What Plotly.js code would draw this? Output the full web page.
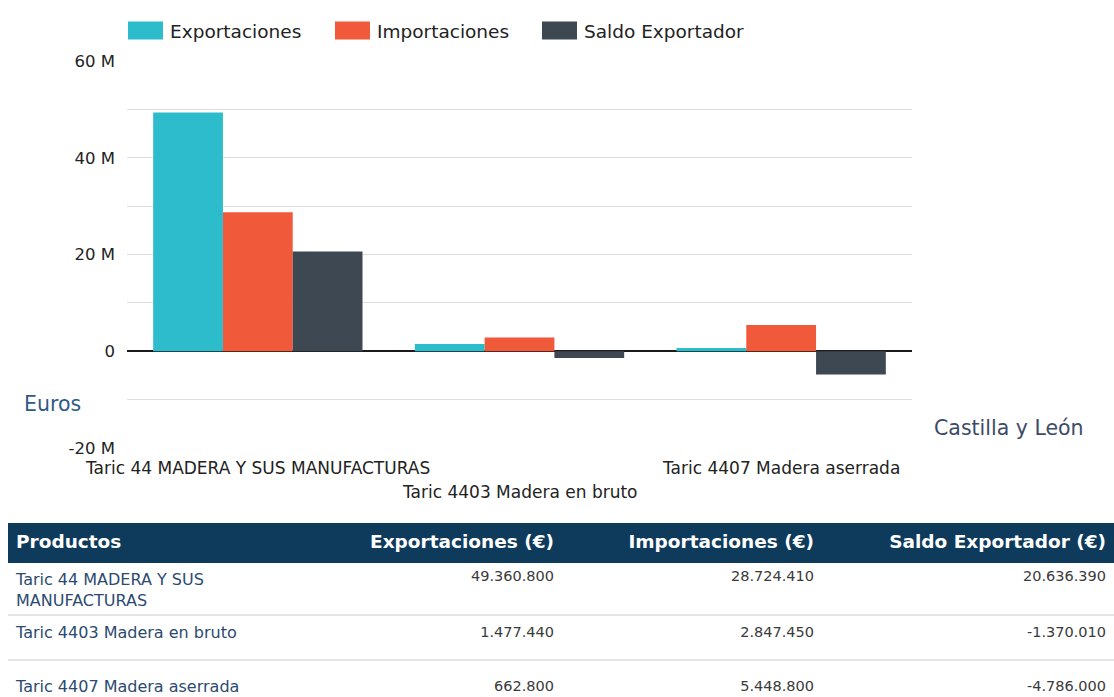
<!DOCTYPE html>
<html><head><meta charset="utf-8">
<script src="https://cdn.plot.ly/plotly-3.0.1.min.js"></script>
<style>html,body{margin:0;padding:0;background:#fff}#chart{width:1114px;height:697px}</style>
</head><body><div id="chart"></div>
<script>
const categories = ["Taric 44 MADERA Y SUS MANUFACTURAS", "Taric 4403 Madera en bruto", "Taric 4407 Madera aserrada"];
const exportaciones = [49360800, 1477440, 662800];
const importaciones = [28724410, 2847450, 5448800];
const saldo = [20636390, -1370010, -4786000];
const seriesNames = ["Exportaciones", "Importaciones", "Saldo Exportador"];
const tableHeaders = ["Productos", "Exportaciones (€)", "Importaciones (€)", "Saldo Exportador (€)"];
const yTickVals = [-20000000, 0, 20000000, 40000000, 60000000];
const yTickText = ["-20 M", "0", "20 M", "40 M", "60 M"];

const FONT = "DejaVu Sans, Noto Sans, sans-serif";
const colors = ["#2dbccc", "#f0593a", "#3e4852"];
const W = 1114, H = 697;
const px = v => v / W, py = v => 1 - v / H;

function wrap(s, n) {
  const words = s.split(" "); const lines = []; let cur = "";
  words.forEach(w => { if ((cur + " " + w).trim().length > n) { lines.push(cur); cur = w; } else { cur = (cur + " " + w).trim(); } });
  lines.push(cur); return lines.join("<br>");
}
function fmt(v) {
  const s = Math.abs(Math.round(v)).toString().replace(/\B(?=(\d{3})+(?!\d))/g, ".");
  return (v < 0 ? "-" : "") + s;
}

const seriesData = [exportaciones, importaciones, saldo];
const traces = seriesData.map((d, i) => ({
  type: "bar", x: categories, y: d, name: seriesNames[i],
  marker: {color: colors[i]}, xaxis: "x", yaxis: "y", hoverinfo: "y+name"
}));

traces.push({
  type: "table",
  domain: {x: [px(8), 1], y: [0, py(523)]},
  columnwidth: [322, 232, 260, 292],
  header: {
    values: tableHeaders.map(h => "<b>" + h + "</b>"),
    align: ["left", "right", "right", "right"],
    fill: {color: "#0e3a5c"}, line: {color: "#0e3a5c", width: 1},
    font: {family: FONT, size: 18.5, color: "#ffffff"}, height: 39
  },
  cells: {
    values: [categories.map(c => wrap(c, 26)), exportaciones.map(fmt), importaciones.map(fmt), saldo.map(fmt)],
    align: ["left", "right", "right", "right"],
    fill: {color: "#ffffff"}, line: {color: "#ffffff", width: 1},
    font: {family: FONT, size: [16, 14.5, 14.5, 14.5], color: ["#2c4a70", "#3a3a3a", "#3a3a3a", "#3a3a3a"]}, height: 54
  }
});

const annotations = categories.map((c, i) => ({
  x: c, xref: "x", y: i % 2 ? py(492) : py(468), yref: "paper",
  text: c, showarrow: false, xanchor: "center", yanchor: "middle",
  font: {family: FONT, size: 17, color: "#222"}
}));
annotations.push({x: px(52), y: py(404), xref: "paper", yref: "paper", text: "Euros", showarrow: false,
  font: {family: FONT, size: 20.5, color: "#2f5a85"}, xanchor: "center", yanchor: "middle"});
annotations.push({x: px(1009), y: py(428), xref: "paper", yref: "paper", text: "Castilla y León", showarrow: false,
  font: {family: FONT, size: 20.5, color: "#3d4b66"}, xanchor: "center", yanchor: "middle"});

const shapes = [615, 660].map(y => ({type: "line", xref: "paper", yref: "paper", x0: px(8), x1: 1, y0: py(y), y1: py(y),
  line: {color: "#dcdcdc", width: 1.5}}));

const layout = {
  width: W, height: H, margin: {l: 0, r: 0, t: 0, b: 0},
  paper_bgcolor: "#fff", plot_bgcolor: "#fff",
  font: {family: FONT, size: 15, color: "#222"},
  barmode: "group", bargap: 0.2, bargroupgap: 0,
  xaxis: {domain: [px(127), px(912)], range: [-0.5, 2.5], autorange: false, showticklabels: false, showgrid: false, zeroline: false, showline: false, ticks: ""},
  yaxis: {domain: [py(448), py(61)], range: [-20000000, 60000000], tickvals: yTickVals, ticktext: yTickText,
    showgrid: true, gridcolor: "#e2dcd8", gridwidth: 1, zeroline: true, zerolinecolor: "#1a1a1a", zerolinewidth: 1.5,
    minor: {dtick: 10000000, showgrid: true, gridcolor: "#e2dcd8", gridwidth: 1, ticks: ""},
    ticks: "", ticklen: 0, ticklabelstandoff: 11, tickfont: {family: FONT, size: 16.5, color: "#222"}, showline: false},
  showlegend: true,
  legend: {orientation: "h", x: px(126), xanchor: "left", y: py(12), yanchor: "top",
    itemwidth: 34, entrywidth: 158, entrywidthmode: "pixels",
    font: {family: FONT, size: 18.5, color: "#222"}, traceorder: "normal", bgcolor: "rgba(0,0,0,0)"},
  annotations: annotations, shapes: shapes
};

Plotly.newPlot("chart", traces, layout, {displayModeBar: false, responsive: false}).then(gd => {
  const fix = () => {
    document.querySelectorAll(".legend .legendpoints path").forEach(p => {
      p.setAttribute("d", "M17.5,9H-17.5V-9H17.5Z");
      p.setAttribute("transform", "translate(19.5,0)");
    });
  };
  fix();
  gd.on("plotly_afterplot", fix);
});
</script></body></html>
